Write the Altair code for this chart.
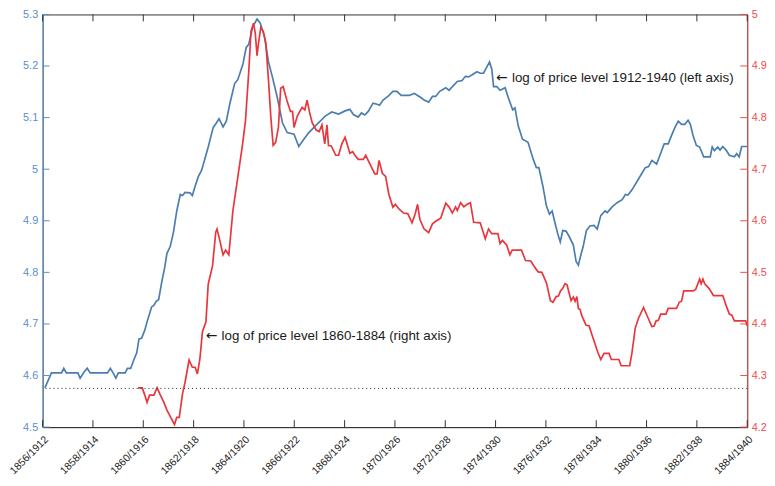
import altair as alt
import pandas as pd

# ---- data (years since Jan 1856 / Jan 1912; log price levels) ----
blue_t = [0.09, 0.35, 0.75, 0.84, 0.94, 1.40, 1.49, 1.62, 1.77, 1.89, 2.58, 2.69, 2.80, 2.91, 3.01,
          3.28, 3.37, 3.50, 3.63, 3.74, 3.83, 3.93, 4.06, 4.15, 4.33, 4.42, 4.51, 4.61, 4.74, 4.85,
          4.94, 5.07, 5.20, 5.33, 5.47, 5.56, 5.66, 5.86, 5.95, 6.06, 6.19, 6.32, 6.58, 6.78, 6.91,
          7.01, 7.17, 7.30, 7.43, 7.63, 7.76, 7.96, 8.09, 8.19, 8.35, 8.52, 8.65, 8.81, 8.98, 9.13,
          9.33, 9.53, 9.72, 9.99, 10.18, 10.38, 10.58, 10.84, 11.03, 11.23, 11.49, 11.76, 12.02,
          12.21, 12.35, 12.54, 12.67, 12.80, 12.94, 13.13, 13.29, 13.39, 13.53, 13.72, 13.92, 14.08,
          14.25, 14.57, 14.77, 14.90, 15.03, 15.16, 15.34, 15.49, 15.62, 15.78, 16.02, 16.15, 16.34,
          16.48, 16.67, 16.80, 16.93, 17.07, 17.26, 17.39, 17.52, 17.66, 17.76, 17.85, 17.92, 18.05,
          18.18, 18.38, 18.51, 18.68, 18.77, 18.90, 19.07, 19.29, 19.49, 19.62, 19.72, 19.88, 20.02,
          20.14, 20.25, 20.34, 20.47, 20.57, 20.67, 20.80, 20.93, 21.09, 21.20, 21.29, 21.39, 21.48,
          21.61, 21.75, 21.91, 22.04, 22.18, 22.35, 22.44, 22.63, 22.83, 23.03, 23.16, 23.26, 23.42,
          23.68, 23.95, 24.08, 24.21, 24.40, 24.51, 24.70, 24.86, 24.99, 25.13, 25.26, 25.39, 25.52,
          25.65, 25.74, 25.85, 25.98, 26.11, 26.27, 26.53, 26.61, 26.70, 26.83, 26.92, 27.03, 27.16,
          27.29, 27.49, 27.58, 27.68, 27.78, 28.00]
blue_v = [4.576, 4.605, 4.605, 4.614, 4.605, 4.605, 4.595, 4.605, 4.614, 4.605, 4.605, 4.614, 4.605,
          4.595, 4.605, 4.605, 4.614, 4.614, 4.631, 4.644, 4.671, 4.672, 4.688, 4.704, 4.733, 4.736,
          4.744, 4.747, 4.783, 4.809, 4.837, 4.850, 4.878, 4.919, 4.951, 4.949, 4.955, 4.954, 4.949,
          4.967, 4.986, 4.998, 5.043, 5.081, 5.090, 5.098, 5.082, 5.093, 5.125, 5.166, 5.174, 5.204,
          5.236, 5.242, 5.276, 5.291, 5.283, 5.258, 5.207, 5.179, 5.138, 5.090, 5.071, 5.068, 5.044,
          5.058, 5.071, 5.084, 5.093, 5.103, 5.111, 5.107, 5.113, 5.116, 5.106, 5.101, 5.109, 5.105,
          5.112, 5.128, 5.126, 5.124, 5.134, 5.141, 5.151, 5.151, 5.143, 5.143, 5.147, 5.143, 5.139,
          5.134, 5.130, 5.141, 5.141, 5.151, 5.158, 5.153, 5.163, 5.170, 5.172, 5.180, 5.179, 5.183,
          5.189, 5.186, 5.186, 5.199, 5.208, 5.194, 5.160, 5.160, 5.153, 5.158, 5.138, 5.115, 5.119,
          5.084, 5.058, 5.052, 5.020, 5.003, 5.003, 4.967, 4.929, 4.913, 4.919, 4.900, 4.875, 4.859,
          4.881, 4.880, 4.869, 4.853, 4.821, 4.814, 4.834, 4.850, 4.881, 4.890, 4.891, 4.884, 4.910,
          4.919, 4.916, 4.927, 4.935, 4.941, 4.951, 4.950, 4.960, 4.981, 5.003, 5.005, 5.017, 5.010,
          5.024, 5.049, 5.049, 5.065, 5.081, 5.093, 5.087, 5.087, 5.095, 5.087, 5.065, 5.046, 5.043,
          5.024, 5.024, 5.043, 5.036, 5.043, 5.037, 5.044, 5.037, 5.027, 5.024, 5.030, 5.024, 5.044,
          5.044]

red_t = [3.79, 3.96, 4.06, 4.15, 4.25, 4.42, 4.55, 4.68, 4.81, 4.94, 5.07, 5.24, 5.33, 5.43, 5.56,
         5.66, 5.82, 5.95, 6.06, 6.15, 6.25, 6.35, 6.49, 6.58, 6.75, 6.88, 6.93, 7.04, 7.17, 7.27,
         7.40, 7.56, 7.76, 7.93, 8.06, 8.19, 8.28, 8.38, 8.45, 8.52, 8.58, 8.67, 8.77, 8.87, 8.98,
         9.07, 9.16, 9.26, 9.37, 9.46, 9.56, 9.72, 9.85, 9.93, 9.99, 10.12, 10.31, 10.42, 10.51,
         10.60, 10.71, 10.87, 10.99, 11.10, 11.21, 11.30, 11.36, 11.47, 11.65, 11.76, 11.89, 12.02,
         12.21, 12.32, 12.41, 12.54, 12.74, 12.84, 13.00, 13.20, 13.29, 13.37, 13.50, 13.63, 13.76,
         13.92, 14.02, 14.18, 14.34, 14.51, 14.68, 14.81, 14.90, 14.99, 15.16, 15.34, 15.49, 15.65,
         15.82, 16.02, 16.15, 16.28, 16.41, 16.48, 16.61, 16.74, 16.87, 17.00, 17.13, 17.39, 17.59,
         17.72, 17.85, 18.09, 18.18, 18.27, 18.44, 18.57, 18.66, 19.03, 19.19, 19.40, 19.53, 19.69,
         19.84, 20.02, 20.18, 20.28, 20.41, 20.50, 20.58, 20.67, 20.76, 20.84, 21.00, 21.09, 21.16,
         21.23, 21.29, 21.36, 21.42, 21.59, 21.72, 21.81, 21.94, 22.07, 22.18, 22.31, 22.51, 22.60,
         22.90, 22.99, 23.33, 23.42, 23.55, 23.68, 23.88, 24.04, 24.21, 24.30, 24.38, 24.47, 24.56,
         24.77, 24.86, 25.19, 25.30, 25.39, 25.48, 25.85, 25.95, 26.04, 26.11, 26.17, 26.24, 26.31,
         26.48, 26.66, 27.03, 27.16, 27.29, 27.39, 27.49, 27.94, 28.00]
red_v = [4.276, 4.276, 4.262, 4.248, 4.262, 4.262, 4.276, 4.262, 4.249, 4.233, 4.221, 4.205, 4.219,
         4.219, 4.265, 4.287, 4.330, 4.316, 4.316, 4.303, 4.332, 4.385, 4.404, 4.477, 4.512, 4.578,
         4.584, 4.562, 4.534, 4.543, 4.534, 4.619, 4.686, 4.743, 4.793, 4.888, 4.967, 4.983, 4.964,
         4.920, 4.945, 4.975, 4.967, 4.945, 4.869, 4.800, 4.746, 4.752, 4.781, 4.857, 4.860, 4.831,
         4.812, 4.812, 4.781, 4.803, 4.820, 4.815, 4.834, 4.812, 4.790, 4.776, 4.773, 4.786, 4.749,
         4.786, 4.746, 4.745, 4.727, 4.727, 4.749, 4.762, 4.731, 4.734, 4.727, 4.719, 4.719, 4.727,
         4.711, 4.691, 4.691, 4.717, 4.692, 4.686, 4.651, 4.626, 4.632, 4.622, 4.615, 4.614, 4.596,
         4.614, 4.632, 4.603, 4.584, 4.577, 4.594, 4.600, 4.605, 4.634, 4.627, 4.615, 4.627, 4.620,
         4.635, 4.627, 4.632, 4.635, 4.597, 4.596, 4.565, 4.584, 4.575, 4.575, 4.556, 4.562, 4.553,
         4.534, 4.543, 4.543, 4.523, 4.522, 4.512, 4.501, 4.500, 4.480, 4.445, 4.442, 4.453, 4.454,
         4.464, 4.469, 4.478, 4.476, 4.445, 4.452, 4.444, 4.453, 4.430, 4.428, 4.417, 4.398, 4.396,
         4.382, 4.363, 4.344, 4.331, 4.343, 4.343, 4.331, 4.331, 4.319, 4.319, 4.344, 4.392, 4.411,
         4.432, 4.414, 4.395, 4.396, 4.406, 4.407, 4.419, 4.419, 4.430, 4.430, 4.442, 4.444, 4.464,
         4.464, 4.467, 4.478, 4.487, 4.478, 4.487, 4.478, 4.469, 4.455, 4.455, 4.436, 4.419, 4.417,
         4.406, 4.406, 4.396]

x_tick_years = [1856, 1858, 1860, 1862, 1864, 1866, 1868, 1870, 1872, 1874, 1876, 1878, 1880, 1882, 1884]
left_ticks = [4.5, 4.6, 4.7, 4.8, 4.9, 5.0, 5.1, 5.2, 5.3]
right_ticks = [4.2, 4.3, 4.4, 4.5, 4.6, 4.7, 4.8, 4.9, 5.0]
reference_level = 4.575
ann_text = ["log of price level 1912-1940 (left axis)",
            "log of price level 1860-1884 (right axis)"]
ann_year = [1874.02, 1862.48]
ann_level = [5.177, 4.676]

# ---- styling ----
W, H = 712, 417
BLUE = "#4a7db1"
BLUE_AXIS = "#5a8fc6"
RED = "#e8363c"
RED_AXIS = "#f04b4b"
FONT = "Liberation Sans"

blue_df = pd.DataFrame({"year": [1856 + t for t in blue_t], "v": blue_v})
red_df = pd.DataFrame({"year": [1856 + t for t in red_t], "v": red_v})
xt_df = pd.DataFrame({"year": x_tick_years})
lt_df = pd.DataFrame({"v": left_ticks})
rt_df = pd.DataFrame({"v": right_ticks})
ref_df = pd.DataFrame({"v": [reference_level]})
ann_df = pd.DataFrame({"year": ann_year, "v": ann_level, "label": ann_text,
                       "arrow": ["\u2190", "\u2190"]})

xs = alt.Scale(domain=[1856, 1884], nice=False, zero=False)
yl = alt.Scale(domain=[4.5, 5.3], nice=False, zero=False)
yr = alt.Scale(domain=[4.2, 5.0], nice=False, zero=False)

x_axis = alt.Axis(values=x_tick_years, labelExpr="datum.value + '/' + (datum.value + 56)",
                  labelAngle=315, labelAlign="right", labelBaseline="top", ticks=False,
                  domainColor="#333333", labelColor="#222222", labelFont=FONT, labelFontSize=10.5,
                  labelPadding=7, grid=False, title=None)

blue_line = alt.Chart(blue_df).mark_line(color=BLUE, strokeWidth=1.7).encode(
    x=alt.X("year:Q", scale=xs, axis=x_axis),
    y=alt.Y("v:Q", scale=yl, axis=alt.Axis(values=left_ticks, format=".1~f", orient="left",
                                            ticks=False, domainColor=BLUE_AXIS, labelColor=BLUE_AXIS,
                                            labelFont=FONT, labelFontSize=11, labelPadding=5,
                                            grid=False, title=None)),
)

ref_rule = alt.Chart(ref_df).mark_rule(color="#222222", strokeWidth=1, strokeDash=[1, 3]).encode(
    y=alt.Y("v:Q", scale=yl, axis=None))

xt_bottom = alt.Chart(xt_df).mark_rule(color="#333333", strokeWidth=1).encode(
    x=alt.X("year:Q", scale=xs), y=alt.value(H), y2=alt.value(H - 7))
xt_top = alt.Chart(xt_df).mark_rule(color="#333333", strokeWidth=1).encode(
    x=alt.X("year:Q", scale=xs), y=alt.value(0), y2=alt.value(7))
lt_rule = alt.Chart(lt_df).mark_rule(color=BLUE_AXIS, strokeWidth=1).encode(
    y=alt.Y("v:Q", scale=yl, axis=None), x=alt.value(0), x2=alt.value(7))

ann_arrow = alt.Chart(ann_df).mark_text(align="left", baseline="middle", font="DejaVu Sans",
                                        fontSize=14, color="#1a1a1a").encode(
    x=alt.X("year:Q", scale=xs),
    y=alt.Y("v:Q", scale=yl, axis=None),
    text="arrow:N")
ann = alt.Chart(ann_df).mark_text(align="left", baseline="middle", font=FONT, fontSize=13.5,
                                  color="#1a1a1a", dx=16).encode(
    x=alt.X("year:Q", scale=xs),
    y=alt.Y("v:Q", scale=yl, axis=None),
    text="label:N")

red_line = alt.Chart(red_df).mark_line(color=RED, strokeWidth=1.7).encode(
    x=alt.X("year:Q", scale=xs),
    y=alt.Y("v:Q", scale=yr, axis=alt.Axis(values=right_ticks, format=".1~f", orient="right",
                                            ticks=False, domainColor=RED_AXIS, labelColor=RED_AXIS,
                                            labelFont=FONT, labelFontSize=11, labelPadding=4,
                                            grid=False, title=None)),
)
rt_rule = alt.Chart(rt_df).mark_rule(color=RED_AXIS, strokeWidth=1).encode(
    y=alt.Y("v:Q", scale=yr, axis=None), x=alt.value(W), x2=alt.value(W - 7))

chart = alt.layer(blue_line, red_line, ref_rule, xt_bottom, xt_top, lt_rule, rt_rule,
                  ann_arrow, ann).resolve_scale(y="independent").properties(
    width=W, height=H, autosize="none",
    padding={"left": 35, "top": 4, "right": 20, "bottom": 57},
    background="white",
).configure_view(stroke="#333333", strokeWidth=1)

chart.save("out.html", embed_options={"renderer": "svg", "actions": False})
